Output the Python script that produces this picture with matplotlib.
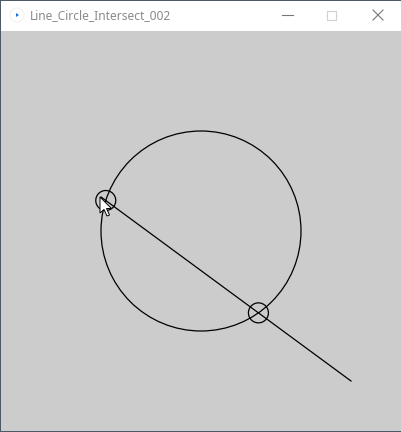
import matplotlib
matplotlib.use("Agg")
import matplotlib.pyplot as plt
import matplotlib.patches as patches
import numpy as np

# window / sketch geometry (pixels)
win_w, win_h = 402, 432
title_h = 31
canvas_x0, canvas_y0 = 1, 31
canvas_size = 400
window_title = "Line_Circle_Intersect_002"

# scene values in sketch coordinates
circle_center = [200, 200]
circle_radius = 100
line_start = [100, 166]
line_end = [350, 350]
marker_radius = 10
cursor_shape = [(0, 0), (0, 16), (4, 12.5), (7, 19), (9.5, 18), (6.5, 11.5), (11.5, 11.5)]


def line_circle_hits(p0, p1, c, r):
    # intersections of segment p0-p1 with circle c, r
    p0 = np.array(p0, float)
    d = np.array(p1, float) - p0
    f = p0 - np.array(c, float)
    a = d @ d
    b = 2 * (f @ d)
    k = f @ f - r * r
    disc = b * b - 4 * a * k
    pts = []
    if disc >= 0:
        for t in [(-b - np.sqrt(disc)) / (2 * a), (-b + np.sqrt(disc)) / (2 * a)]:
            if 0 <= t <= 1:
                pts.append(p0 + t * d)
    return pts


fig = plt.figure(figsize=[win_w / 100, win_h / 100], dpi=100)
ax = fig.add_axes([0, 0, 1, 1])
ax.set_xlim(0, win_w)
ax.set_ylim(win_h, 0)
ax.set_axis_off()

# window frame and title bar
ax.add_patch(patches.Rectangle((0, 0), win_w, win_h, facecolor="#4a5a68", edgecolor="none"))
ax.add_patch(patches.Rectangle((1, 1), win_w - 2, title_h - 1, facecolor="white", edgecolor="none"))
ax.add_patch(patches.Rectangle((canvas_x0, canvas_y0), canvas_size, canvas_size,
                               facecolor="#cccccc", edgecolor="none"))

# title bar bits
ax.add_patch(patches.Circle((17, 15), 7, facecolor="white", edgecolor="#eeeeee", lw=0.6))
ax.add_patch(patches.Polygon([(16, 13), (16, 17), (19, 15)], facecolor="#1a6fd8", edgecolor="none"))
ax.text(30, 15.5, window_title, fontsize=8.6, family="Noto Sans", color="#8a8a8a",
        va="center", ha="left")
ax.plot([282, 293], [15, 15], color="#777777", lw=0.8)
ax.add_patch(patches.Rectangle((327.5, 10.5), 9, 9, facecolor="none", edgecolor="#d0d0d0", lw=0.8))
ax.plot([373, 383], [10, 20], color="#777777", lw=0.8)
ax.plot([373, 383], [20, 10], color="#777777", lw=0.8)


def cx(x):
    return np.asarray(x) + canvas_x0


def cy(y):
    return np.asarray(y) + canvas_y0


# sketch drawing
ax.add_patch(patches.Circle((cx(circle_center[0]), cy(circle_center[1])), circle_radius,
                            facecolor="none", edgecolor="black", lw=0.9))
ax.plot(cx([line_start[0], line_end[0]]), cy([line_start[1], line_end[1]]), color="black", lw=0.9)

for p in line_circle_hits(line_start, line_end, circle_center, circle_radius):
    ax.add_patch(patches.Circle((cx(p[0]), cy(p[1])), marker_radius,
                                facecolor="none", edgecolor="black", lw=0.9))

# mouse cursor
cur = np.array(cursor_shape) + np.array([cx(line_start[0]) - 1, cy(line_start[1])])
ax.add_patch(patches.Polygon(cur, closed=True, facecolor="white", edgecolor="black", lw=0.7))

fig.savefig("out.png", dpi=100)
